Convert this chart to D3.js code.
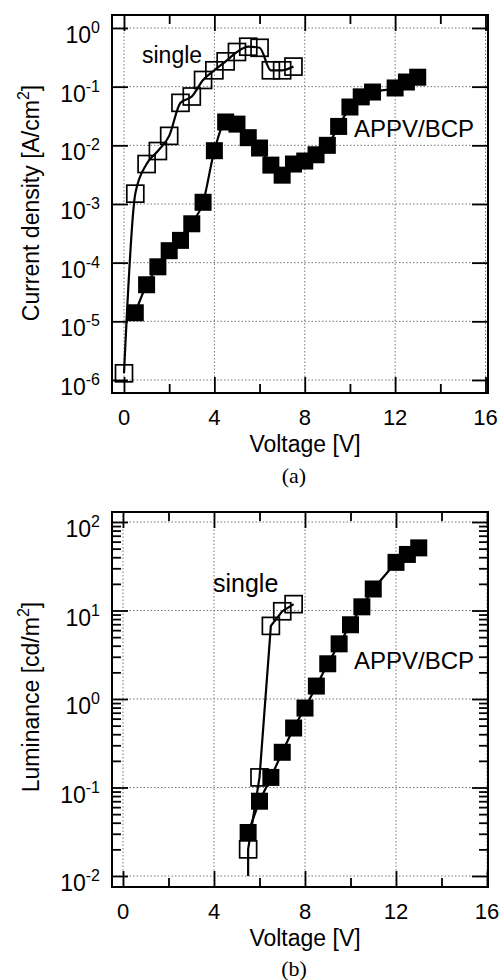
<!DOCTYPE html>
<html><head><meta charset="utf-8">
<script src="https://cdn.jsdelivr.net/npm/d3@7"></script>
<style>body{margin:0;background:#fff}svg text{font-family:"Liberation Sans",Arial,sans-serif;fill:#000}</style>
</head><body>
<script>
// ---- data ----
const voltageTicks = [0, 4, 8, 12, 16];
const voltageMinorTicks = [2, 6, 10, 14];
const currentExps = [0, -1, -2, -3, -4, -5, -6];
const lumExps = [2, 1, 0, -1, -2];

// (a) current density
const singleV = [0, 0.5, 1, 1.5, 2, 2.5, 3, 3.5, 4, 4.5, 5, 5.5, 6, 6.5, 7, 7.5];
const singleJ = [1.3e-6, 1.5e-3, 4.8e-3, 8e-3, 1.45e-2, 5.3e-2, 6.8e-2, 0.13, 0.19, 0.27, 0.39, 0.48, 0.46, 0.19, 0.19, 0.22];
const appvV = [0.5, 1, 1.5, 2, 2.5, 3, 3.5, 4, 4.5, 5, 5.5, 6, 6.5, 7, 7.5, 8, 8.5, 9, 9.5, 10, 10.5, 11, 12, 12.5, 13];
const appvJ = [1.4e-5, 4.2e-5, 8.5e-5, 1.6e-4, 2.4e-4, 4.6e-4, 1.07e-3, 8.1e-3, 2.5e-2, 2.3e-2, 1.35e-2, 9e-3, 4.6e-3, 3.1e-3, 4.8e-3, 5.4e-3, 6.9e-3, 1.0e-2, 2.1e-2, 4.5e-2, 6.7e-2, 8.1e-2, 9.5e-2, 0.12, 0.145];

// (b) luminance
const singleLV = [5.5, 6, 6.5, 7, 7.5];
const singleL = [0.02, 0.13, 6.7, 9.8, 11.8];
const singleLineStart = [5.5, 0.01];
const appvLV = [5.5, 6, 6.5, 7, 7.5, 8, 8.5, 9, 9.5, 10, 10.5, 11, 12, 12.5, 13];
const appvL = [0.031, 0.07, 0.13, 0.25, 0.47, 0.79, 1.4, 2.5, 4.2, 6.9, 11, 17.5, 35, 43, 51];

// ---- drawing ----
const svg = d3.select("body").append("svg").attr("width", 499).attr("height", 980);
const FONT = 23;

function drawPanel(p) {
  const g = svg.append("g");
  const x = d3.scaleLinear().domain([0, 16]).range(p.xRange);
  const y = d3.scaleLog().domain(p.yDomain).range(p.yRange);
  const L = 112, R = 488, T = p.top, B = p.bottom;

  // grid
  const grid = g.append("g").attr("stroke", "#777").attr("stroke-width", 1).attr("stroke-dasharray", "1.5,2");
  grid.selectAll(".gx").data(voltageTicks).join("line")
    .attr("x1", d => x(d)).attr("x2", d => x(d)).attr("y1", T).attr("y2", B);
  grid.selectAll(".gy").data(p.exps).join("line")
    .attr("x1", L).attr("x2", R).attr("y1", d => y(Math.pow(10, d))).attr("y2", d => y(Math.pow(10, d)));

  // lines
  const line = d3.line().x(d => x(d[0])).y(d => y(d[1])).curve(p.curve);
  p.series.forEach(s => {
    g.append("path").datum(s.line).attr("d", line)
      .attr("fill", "none").attr("stroke", "#000").attr("stroke-width", 2.2);
  });
  // markers
  const S = 17;
  p.series.forEach(s => {
    g.selectAll(null).data(s.pts).join("rect")
      .attr("x", d => x(d[0]) - S / 2).attr("y", d => y(d[1]) - S / 2)
      .attr("width", S).attr("height", S)
      .attr("fill", s.filled ? "#000" : "none")
      .attr("stroke", "#000").attr("stroke-width", s.filled ? 0 : 1.7);
  });

  // ticks via axes (inward)
  const ax = (gen, tx, ty) => g.append("g").attr("transform", `translate(${tx},${ty})`).call(gen)
      .call(a => a.select(".domain").remove())
      .call(a => a.selectAll("line").attr("stroke-width", 1.8));
  ax(d3.axisBottom(x).tickValues(voltageTicks).tickSize(-16).tickFormat(""), 0, B);
  ax(d3.axisBottom(x).tickValues(voltageMinorTicks).tickSize(-9).tickFormat(""), 0, B);
  ax(d3.axisTop(x).tickValues(voltageTicks).tickSize(-16).tickFormat(""), 0, T);
  ax(d3.axisTop(x).tickValues(voltageMinorTicks).tickSize(-9).tickFormat(""), 0, T);
  const majors = p.exps.map(e => Math.pow(10, e));
  ax(d3.axisLeft(y).tickValues(majors).tickSize(-16).tickFormat(""), L, 0);
  ax(d3.axisRight(y).tickValues(majors).tickSize(-16).tickFormat(""), R, 0);
  if (p.minor) {
    const minors = [];
    p.exps.forEach(e => { for (let k = 2; k <= 9; k++) { const v = k * Math.pow(10, e); if (v <= p.yDomain[1] && v >= p.yDomain[0]) minors.push(v); } });
    ax(d3.axisLeft(y).tickValues(minors).tickSize(-9).tickFormat(""), L, 0);
    ax(d3.axisRight(y).tickValues(minors).tickSize(-9).tickFormat(""), R, 0);
  }

  // frame
  g.append("rect").attr("x", L).attr("y", T).attr("width", R - L).attr("height", B - T)
    .attr("fill", "none").attr("stroke", "#000").attr("stroke-width", 2);

  // y tick labels
  p.exps.forEach(e => {
    const t = g.append("text").attr("x", 100).attr("y", y(Math.pow(10, e)) + 15)
      .attr("text-anchor", "end").attr("font-size", FONT);
    t.append("tspan").text("10");
    t.append("tspan").attr("font-size", 16).attr("dy", -10).text(String(e));
  });
  // x tick labels
  g.selectAll(null).data(voltageTicks).join("text")
    .attr("x", d => x(d)).attr("y", B + 32).attr("text-anchor", "middle").attr("font-size", 22).text(d => d);
  // x title
  g.append("text").attr("x", 305).attr("y", B + 59).attr("text-anchor", "middle").attr("font-size", FONT).text("Voltage [V]");
  // y title
  const yt = g.append("text").attr("transform", `translate(39,${p.yTitleY}) rotate(-90)`)
    .attr("text-anchor", "middle").attr("font-size", FONT);
  yt.append("tspan").text(p.yTitle);
  yt.append("tspan").attr("font-size", 16).attr("dy", -10).text("2");
  yt.append("tspan").attr("dy", 10).text("]");
  // series labels
  p.labels.forEach(l => g.append("text").attr("x", l.x).attr("y", l.y).attr("font-size", l.size).text(l.text));
  // panel caption
  g.append("text").attr("x", 294).attr("y", p.capY).attr("text-anchor", "middle")
    .attr("font-size", 22).style("font-family", '"Liberation Serif","Times New Roman",serif').text(p.caption);
}

const zip = (a, b) => a.map((v, i) => [v, b[i]]);

drawPanel({
  top: 15, bottom: 393, xRange: [124, 485.5], yDomain: [1e-6, 1], yRange: [380, 28],
  exps: currentExps, minor: false, curve: d3.curveMonotoneX,
  series: [
    { pts: zip(singleV, singleJ), line: zip(singleV, singleJ), filled: false },
    { pts: zip(appvV, appvJ), line: zip(appvV, appvJ), filled: true }
  ],
  yTitle: "Current density [A/cm", yTitleY: 203,
  labels: [{ x: 142, y: 63, text: "single", size: 23 }, { x: 354, y: 137, text: "APPV/BCP", size: 24 }],
  caption: "(a)", capY: 483
});

drawPanel({
  top: 512, bottom: 887, xRange: [123, 487], yDomain: [1e-2, 1e2], yRange: [876, 522],
  exps: lumExps, minor: true, curve: d3.curveLinear,
  series: [
    { pts: zip(singleLV, singleL), line: [singleLineStart].concat(zip(singleLV, singleL)), filled: false },
    { pts: zip(appvLV, appvL), line: zip(appvLV, appvL), filled: true }
  ],
  yTitle: "Luminance [cd/m", yTitleY: 697,
  labels: [{ x: 213, y: 592, text: "single", size: 25 }, { x: 354, y: 669, text: "APPV/BCP", size: 24 }],
  caption: "(b)", capY: 976
});
</script>
</body></html>
